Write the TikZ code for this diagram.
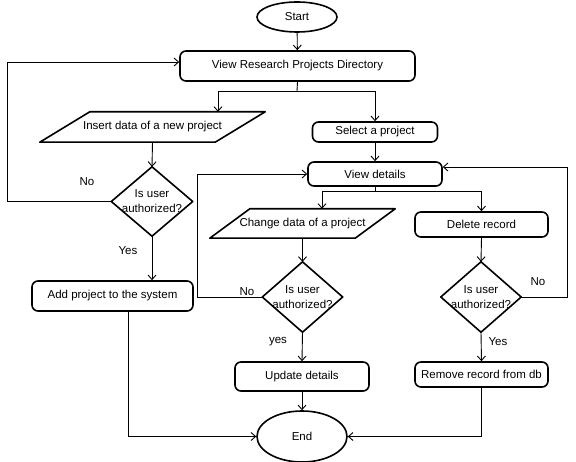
\documentclass[tikz,border=0pt]{standalone}
\usepackage{fontspec}
\setmainfont{Liberation Sans}
\usetikzlibrary{shapes.geometric,arrows.meta,calc}

\begin{document}
\begin{tikzpicture}[x=1pt,y=-1pt,
  every node/.style={font=\fontsize{11.5}{15}\selectfont, inner sep=0pt, align=center},
  term/.style={ellipse, draw, line width=1.6pt},
  proc/.style={rectangle, rounded corners=6pt, draw, line width=1.6pt},
  body/.style={rectangle},
  outline/.style={line width=1.6pt, line join=round},
  conn/.style={line width=0.9pt, -{Straight Barb[length=4.5pt,width=8pt,line width=0.9pt]}},
  plain/.style={line width=0.9pt},
  lbl/.style={font=\fontsize{11.5}{15}\selectfont}
]
\useasboundingbox (0,0) rectangle (576,462);

% terminals
\node[term, minimum width=80, minimum height=30] (start) at (297,17) {Start};
\node[term, minimum width=90, minimum height=51] (end) at (302,436.5) {End};

% process boxes
\node[proc, minimum width=235, minimum height=30] (vrpd) at (297.5,66) {View Research Projects Directory};
\node[proc, minimum width=125, minimum height=20] (select) at (375,132) {Select a project};
\node[proc, minimum width=161, minimum height=30] (add) at (112.5,296) {Add project to the system};
\node[proc, minimum width=134, minimum height=24] (vd) at (375,174) {View details};
\node[proc, minimum width=133, minimum height=25] (del) at (481.5,224.5) {Delete record};
\node[proc, minimum width=134, minimum height=29] (upd) at (302,376.5) {Update details};
\node[proc, minimum width=133, minimum height=25] (rem) at (481.5,374.5) {Remove record from db};

% input parallelograms (body node plus slanted outline)
\node[body, minimum width=175, minimum height=30] (insert) at (152.5,127) {Insert data of a new project};
\draw[outline]
  ($(insert.south west)+(-25,0)$) -- ($(insert.north west)+(25,0)$) --
  ($(insert.north east)+(25,0)$) -- ($(insert.south east)+(-25,0)$) -- cycle;
\node[body, minimum width=145, minimum height=29] (change) at (302.5,223.5) {Change data of a project};
\draw[outline]
  ($(change.south west)+(-20,0)$) -- ($(change.north west)+(20,0)$) --
  ($(change.north east)+(20,0)$) -- ($(change.south east)+(-20,0)$) -- cycle;

% decisions: fixed-size diamonds drawn through the body's side midpoints
\node[body, minimum width=81, minimum height=69] (auth1) at (152,201.5) {Is user\\authorized?};
\node[body, minimum width=80, minimum height=70] (auth2) at (302.5,297) {Is user\\authorized?};
\node[body, minimum width=80, minimum height=70] (auth3) at (481,297) {Is user\\authorized?};
\foreach \d in {auth1,auth2,auth3}
  \draw[outline] (\d.north) -- (\d.east) -- (\d.south) -- (\d.west) -- cycle;

% junction and loop points
\coordinate (j1) at (297,91);
\coordinate (j2) at (375,191);
\coordinate (lp1) at (7,62);
\coordinate (lp2) at (197,297);
\coordinate (lp3) at (567,297);

% connectors
\draw[conn] (start) -- (vrpd);
\draw[plain] (vrpd.south) -- (j1);
\draw[conn] (j1) -| ($(insert.north)+(65.5,0)$);
\draw[conn] (j1) -| (select.north);
\draw[conn] (insert.south) -- (auth1.north);
\draw[conn] (auth1.west) -| (lp1) -- (lp1 -| vrpd.west);
\draw[conn] (auth1.south) -- (auth1.south |- add.north);
\draw[conn] ($(add.south)+(15.5,0)$) |- (end.west);

\draw[conn] (select) -- (vd);
\draw[plain] (vd.south) -- (j2);
\draw[conn] (j2) -| ($(change.north)+(19.5,0)$);
\draw[conn] (j2) -| (del.north);
\draw[conn] (change.south) -- (auth2.north);
\draw[conn] (auth2.west) -- (lp2) |- (vd.west);
\draw[conn] (auth2.south) -- (upd.north);
\draw[conn] (upd.south) -- (end.north);

\draw[conn] (del.south) -- (auth3.north);
\draw[conn] (auth3.east) -- (lp3) |- ($(vd.east)+(0,-7)$);
\draw[conn] (auth3.south) -- (rem.north);
\draw[conn] (rem.south) |- (end.east);

% branch labels
\node[lbl] (no1) at (87,182) {No};
\node[lbl] (yes1) at (128,251) {Yes};
\node[lbl] (no2) at (247,292) {No};
\node[lbl] (yes2) at (278,342) {yes};
\node[lbl] (no3) at (538,282) {No};
\node[lbl] (yes3) at (498,342) {Yes};
\end{tikzpicture}
\end{document}
